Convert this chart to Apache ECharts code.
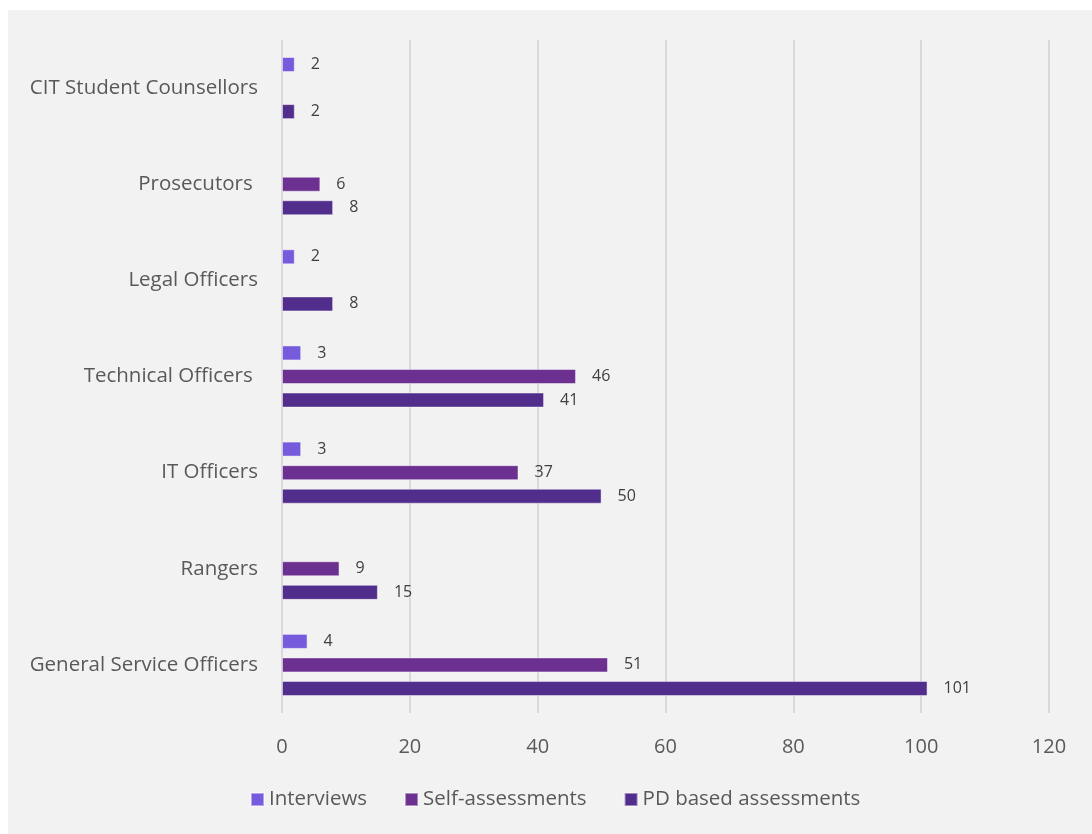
<!DOCTYPE html>
<html>
<head>
<meta charset="utf-8">
<script src="https://cdn.jsdelivr.net/npm/echarts@6/dist/echarts.min.js"></script>
<style>
  html, body { margin: 0; padding: 0; background: #ffffff; }
  #chart { position: absolute; left: 8px; top: 10px; width: 1084px; height: 824px; background: #f2f2f2; }
</style>
</head>
<body>
<div id="chart"></div>
<script>
// Staff groups, listed bottom to top along the category axis
const categories = [
  'General Service Officers',
  'Rangers',
  'IT Officers',
  'Technical Officers ',
  'Legal Officers',
  'Prosecutors ',
  'CIT Student Counsellors'
];

// Number of assessments per group (null = none of that type)
const interviews      = [4, null, 3, 3, 2, null, 2];
const selfAssessments = [51, 9, 37, 46, null, 6, null];
const pdAssessments   = [101, 15, 50, 41, 8, 8, 2];

const xTicks = [0, 20, 40, 60, 80, 100, 120];

const FONT = '"Open Sans", Lato, sans-serif';

const chart = echarts.init(document.getElementById('chart'), null, { renderer: 'canvas' });

function barSeries(name, data, color) {
  return {
    name: name,
    type: 'bar',
    data: data,
    barWidth: 15,
    barGap: '57%',
    itemStyle: { color: color, borderColor: 'rgba(255,255,255,0.45)', borderWidth: 1 },
    label: {
      show: true,
      position: 'right',
      distance: 16,
      color: '#404040',
      fontFamily: FONT,
      fontSize: 16
    }
  };
}

chart.setOption({
  backgroundColor: '#f2f2f2',
  animation: false,
  grid: { left: 274, right: 43, top: 30, bottom: 121, containLabel: false },
  legend: {
    data: ['Interviews', 'Self-assessments', 'PD based assessments'],
    left: 237,
    top: 774,
    itemWidth: 13,
    itemHeight: 13,
    itemGap: 37,
    icon: 'rect',
    textStyle: { color: '#595959', fontFamily: FONT, fontSize: 20.5, padding: [0, 0, 0, 0] }
  },
  xAxis: {
    type: 'value',
    min: xTicks[0],
    max: xTicks[xTicks.length - 1],
    interval: 20,
    axisLine: { show: false },
    axisTick: { show: false },
    splitLine: { show: true, lineStyle: { color: '#d9d9d9', width: 2 } },
    axisLabel: { color: '#595959', fontFamily: FONT, fontSize: 20, margin: 24 }
  },
  yAxis: {
    type: 'category',
    data: categories,
    axisLine: { show: false },
    axisTick: { show: false },
    axisLabel: { color: '#595959', fontFamily: FONT, fontSize: 20.5, margin: 24 }
  },
  series: [
    barSeries('Interviews', interviews, '#765cdc'),
    barSeries('Self-assessments', selfAssessments, '#6c3190'),
    barSeries('PD based assessments', pdAssessments, '#512d8c')
  ]
});
</script>
</body>
</html>
